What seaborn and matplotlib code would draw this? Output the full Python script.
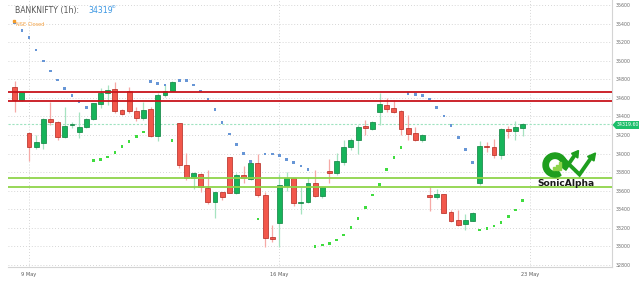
import numpy as np
import pandas as pd
import matplotlib
matplotlib.use("Agg")
import matplotlib.pyplot as plt
import seaborn as sns
from matplotlib.patches import Rectangle, Polygon, Wedge

# ---------------- data ----------------
opens = [34714, 34577, 34218, 34074, 34117, 34372, 34337, 34175, 34304, 34235,
         34286, 34369, 34537, 34649, 34692, 34469, 34677, 34458, 34386, 34477,
         34189, 34631, 34674, 34326, 33877, 33734, 33780, 33632, 33482, 33583,
         33960, 33572, 33769, 33723, 33895, 33554, 33098, 33255, 33654, 33734,
         33464, 33475, 33680, 33546, 33809, 33794, 33906, 34067, 34146, 34297,
         34265, 34444, 34523, 34491, 34458, 34272, 34218, 34146, 33554, 33535,
         33561, 33371, 33284, 33241, 33277, 33680, 34081, 34067, 33984, 34265,
         34246, 34280]
highs = [34785, 34666, 34230, 34200, 34383, 34552, 34354, 34498, 34343, 34451,
         34380, 34548, 34703, 34738, 34767, 34476, 34720, 34505, 34559, 34505,
         34649, 34738, 34785, 34333, 34003, 33805, 33790, 33823, 33589, 33589,
         33967, 33787, 33866, 33931, 33995, 33589, 33231, 33780, 33805, 33740,
         33643, 33751, 33823, 33651, 33938, 34003, 34146, 34164, 34308, 34361,
         34350, 34649, 34595, 34577, 34465, 34415, 34289, 34211, 33637, 33615,
         33568, 33392, 33392, 33349, 33374, 34135, 34128, 34154, 34272, 34297,
         34351, 34330]
lows = [34444, 34566, 33923, 34046, 34046, 34308, 34146, 34164, 34272, 34171,
        34272, 34361, 34487, 34523, 34434, 34412, 34434, 34351, 34361, 34175,
        34139, 34612, 34670, 33841, 33715, 33615, 33589, 33457, 33303, 33500,
        33572, 33561, 33680, 33715, 33529, 32997, 33051, 32997, 33600, 33435,
        33349, 33464, 33535, 33518, 33680, 33769, 33877, 34038, 33995, 34200,
        34255, 34308, 34451, 34434, 34200, 34146, 34139, 34128, 33385, 33511,
        33356, 33266, 33225, 33177, 33270, 33661, 34020, 33949, 33938, 34164,
        34146, 34189]
closes = [34577, 34660, 34074, 34121, 34369, 34343, 34175, 34300, 34318, 34286,
          34369, 34541, 34655, 34685, 34462, 34423, 34462, 34386, 34469, 34189,
          34631, 34674, 34774, 33877, 33737, 33787, 33637, 33482, 33583, 33529,
          33579, 33769, 33734, 33895, 33554, 33094, 33080, 33661, 33734, 33464,
          33482, 33680, 33546, 33637, 33794, 33920, 34067, 34146, 34289, 34272,
          34340, 34531, 34480, 34451, 34268, 34211, 34146, 34200, 33535, 33561,
          33363, 33274, 33231, 33284, 33363, 34081, 34070, 33984, 34265, 34246,
          34283, 34319]

# parabolic SAR values and side ("above" = blue, "below" = green)
sar_values = [35406, 35323, 35248, 35115, 34997, 34889, 34792, 34703, 34627, 34559,
              34494, 33923, 33934, 33963, 34009, 34074, 34128, 34182, 34232, 34774,
              34757, 34738, 34139, 34785, 34785, 34738, 34674, 34588, 34477, 34332,
              34211, 34100, 34003, 33912, 33295, 33995, 33995, 33977, 33938, 33902,
              33866, 33830, 32997, 33015, 33034, 33069, 33123, 33206, 33303, 33421,
              33554, 33669, 33826, 33955, 34063, 34649, 34638, 34623, 34588, 34494,
              34405, 34300, 34175, 34042, 33904, 33177, 33195, 33220, 33255, 33320,
              33392, 33492]
sar_side = (["above"] * 11 + ["below"] * 8 + ["above"] * 3 + ["below"] +
            ["above"] * 11 + ["below"] + ["above"] * 7 + ["below"] * 13 +
            ["above"] * 10 + ["below"] * 7)

resistance_levels = [34660, 34563]
support_levels = [33737, 33637]
last_price = 34319.60
date_tick_pos = [2, 37, 72]
date_tick_labels = ["9 May", "16 May", "23 May"]
price_ticks = list(range(32800, 35601, 200))

# ---------------- figure ----------------
sns.set_theme(style="white")
plt.rcParams["font.family"] = ["DejaVu Sans"]

W, H = 640, 282
fig = plt.figure(figsize=(W / 100, H / 100), dpi=100)
fig.patch.set_facecolor("white")
ax = fig.add_axes([8 / W, (H - 267) / H, 604 / W, 267 / H])
ax.set_facecolor("white")

n = len(opens)
x = np.arange(n)
df = pd.DataFrame({"x": x, "open": opens, "high": highs, "low": lows, "close": closes})
df["up"] = df["close"] >= df["open"]

# grid
for p in price_ticks:
    ax.axhline(p, color="#c9c9c9", lw=0.6, ls=(0, (1, 2.5)), zorder=0)
for p in date_tick_pos:
    ax.axvline(p, color="#c9c9c9", lw=0.6, ls=(0, (1, 2.5)), zorder=0)

# wicks
wick_col = np.where(df["up"], "#a6e3c0", "#f6a9a6")
ax.vlines(df["x"], df["low"], df["high"], colors=wick_col, lw=0.9, zorder=2)

# bodies
body_bottom = np.minimum(df["open"], df["close"])
body_h = np.maximum(np.abs(df["close"] - df["open"]), 12)
fill = np.where(df["up"], "#16b45a", "#f2574b")
edge = np.where(df["up"], "#0b7f3d", "#b3261e")
ax.bar(df["x"], body_h, bottom=body_bottom, width=0.68, color=fill,
       edgecolor=edge, linewidth=0.5, zorder=3)

# parabolic SAR dots
sar_df = pd.DataFrame({"x": x, "sar": sar_values, "side": sar_side})
sns.scatterplot(data=sar_df, x="x", y="sar", hue="side",
                palette={"above": "#6796d6", "below": "#3fdc3f"},
                marker="s", s=3.5, linewidth=0, legend=False, ax=ax, zorder=4)

# levels
for lv in resistance_levels:
    ax.axhline(lv, color="#c8141b", lw=1.3, zorder=5)
for lv in support_levels:
    ax.axhline(lv, color="#8fd44a", lw=1.3, zorder=5)
ax.axhline(last_price, color="#9fe3c0", lw=0.8, ls=(0, (2, 1.5)), zorder=1)

# axes formatting
ax.set_xlim(-0.94, 83.5)
ax.set_ylim(32778, 35654)
ax.set_xticks(date_tick_pos)
ax.set_xticklabels(date_tick_labels)
ax.set_yticks(price_ticks)
ax.set_yticklabels([str(p) for p in price_ticks])
ax.yaxis.tick_right()
ax.tick_params(axis="y", length=0, pad=3, labelsize=3.4, labelcolor="#6e6e6e")
ax.tick_params(axis="x", length=0, pad=3.5, labelsize=3.6, labelcolor="#5a5a5a")
ax.set_xlabel("")
ax.set_ylabel("")
for s in ["top", "left"]:
    ax.spines[s].set_visible(False)
for s in ["right", "bottom"]:
    ax.spines[s].set_color("#d4d4d4")
    ax.spines[s].set_linewidth(0.8)


def fx(px):
    return px / W


def fy(py):
    return 1 - py / H


# price label on the right axis
lab = Polygon([(fx(612.5), fy(125)), (fx(616), fy(121)), (fx(639), fy(121)),
               (fx(639), fy(129)), (fx(616), fy(129))], closed=True,
              transform=fig.transFigure, facecolor="#1dbf6b", edgecolor="none",
              zorder=1)
fig.patches.append(lab)
fig.text(fx(627.5), fy(125), "34319.60", fontsize=3.4, color="white",
         ha="center", va="center", zorder=30)

# header
fig.text(fx(15), fy(10.5), "BANKNIFTY (1h):", fontsize=5.6, color="#555555",
         ha="left", va="center")
fig.text(fx(88), fy(10.5), "34319", fontsize=5.6, color="#3b97e3",
         ha="left", va="center")
fig.text(fx(111.5), fy(6.5), "60", fontsize=2.5, color="#3b97e3",
         ha="left", va="center")
fig.patches.append(Rectangle((fx(12.5), fy(22)), fx(2), 2 / H,
                             transform=fig.transFigure, color="#f39c2b"))
fig.text(fx(15.5), fy(24.3), "NSE Closed", fontsize=3.6, color="#f5a243",
         ha="left", va="center")

# logo (pixel-unit axes)
lax = fig.add_axes([fx(540), fy(180), 58 / W, 30 / H])
lax.set_xlim(540, 598)
lax.set_ylim(180, 150)
lax.axis("off")
logo_green = "#1e9e1e"
lax.add_patch(Wedge((555, 165), 12, 60, 380, width=5.4, color=logo_green))
lax.add_patch(Rectangle((552.5, 167), 2.2, 3.2, color="#8cd44a"))
lax.add_patch(Rectangle((555.8, 164.5), 2.2, 5.7, color="#8cd44a"))
lax.add_patch(Rectangle((559.1, 162), 2.2, 8.2, color="#8cd44a"))
lax.plot([564.5, 574.5], [170, 155.5], color=logo_green, lw=2.8,
         solid_capstyle="butt")
lax.add_patch(Polygon([(571.5, 153.5), (578.5, 150.5), (577.8, 158)], color=logo_green))
lax.plot([563.5, 579.5, 591], [159, 174.5, 158], color=logo_green, lw=2.8,
         solid_joinstyle="miter", solid_capstyle="butt")
lax.add_patch(Polygon([(587.5, 156.5), (595.5, 153), (594, 161)], color=logo_green))

fig.text(fx(566), fy(183.5), "SonicAlpha", fontsize=6.6, fontweight="bold",
         color="#1a1a1a", ha="center", va="center", zorder=20)

fig.savefig("out.png", dpi=100, facecolor="white")
